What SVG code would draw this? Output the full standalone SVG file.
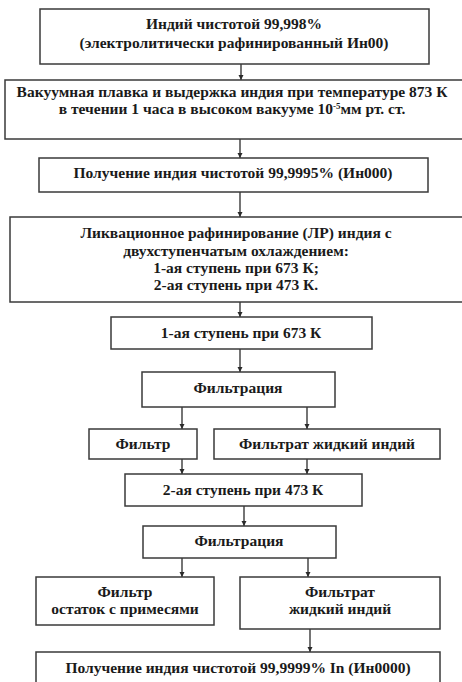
<svg xmlns="http://www.w3.org/2000/svg" width="462" height="682" viewBox="0 0 462 682">
<style>
.b{fill:#fff;stroke:#3a3a3a;stroke-width:1.5}
.t{font-family:"Liberation Serif","Times New Roman",serif;font-weight:bold;font-size:15.5px;fill:#1a1a1a;text-anchor:middle}
.c{stroke:#2a2a2a;stroke-width:1.3;fill:none;marker-end:url(#a)}
</style>
<defs>
<marker id="a" markerWidth="6" markerHeight="6" refX="5" refY="3" orient="auto" markerUnits="userSpaceOnUse">
<path d="M0,0.5 L5,3 L0,5.5 Z" fill="#2a2a2a"/>
</marker>
</defs>
<rect width="462" height="682" fill="#fff"/>
<g id="connectors">
<line class="c" x1="241" y1="64" x2="241" y2="80"/>
<line class="c" x1="240" y1="139" x2="240" y2="158"/>
<line class="c" x1="240" y1="192" x2="240" y2="217"/>
<line class="c" x1="240" y1="302" x2="240" y2="317"/>
<line class="c" x1="240" y1="349" x2="240" y2="372"/>
<line class="c" x1="182" y1="407" x2="182" y2="429"/>
<line class="c" x1="307" y1="407" x2="307" y2="429"/>
<line class="c" x1="182" y1="459" x2="182" y2="474"/>
<line class="c" x1="307" y1="459" x2="307" y2="474"/>
<line class="c" x1="244" y1="506" x2="244" y2="526"/>
<line class="c" x1="182" y1="558" x2="182" y2="577"/>
<line class="c" x1="308" y1="558" x2="308" y2="577"/>
<line class="c" x1="310" y1="629" x2="310" y2="652"/>
</g>
<g id="n1"><rect class="b" x="40" y="9" width="389" height="55"/>
<text class="t" x="234" y="29">Индий чистотой 99,998%</text>
<text class="t" x="234" y="48">(электролитически рафинированный Ин00)</text></g>
<g id="n2"><rect class="b" x="5" y="80" width="470" height="59"/>
<text class="t" x="232" y="97">Вакуумная плавка и выдержка индия при температуре 873 К</text>
<text class="t" x="232" y="114">в течении 1 часа в высоком вакууме 10<tspan font-size="9" dy="-5">-5</tspan><tspan dy="5">мм рт. ст.</tspan></text></g>
<g id="n3"><rect class="b" x="39" y="158" width="389" height="34"/>
<text class="t" x="233" y="178">Получение индия чистотой 99,9995% (Ин000)</text></g>
<g id="n4"><rect class="b" x="10" y="217" width="465" height="85"/>
<text class="t" x="236" y="238">Ликвационное рафинирование (ЛР) индия с</text>
<text class="t" x="236" y="256">двухступенчатым охлаждением:</text>
<text class="t" x="236" y="273">1-ая ступень при 673 К;</text>
<text class="t" x="236" y="290">2-ая ступень при 473 К.</text></g>
<g id="n5"><rect class="b" x="111" y="317" width="261" height="32"/>
<text class="t" x="241" y="338">1-ая ступень при 673 К</text></g>
<g id="n6"><rect class="b" x="142" y="372" width="193" height="35"/>
<text class="t" x="238" y="393">Фильтрация</text></g>
<g id="n7"><rect class="b" x="89" y="429" width="108" height="30"/>
<text class="t" x="143" y="449">Фильтр</text></g>
<g id="n8"><rect class="b" x="214" y="429" width="226" height="30"/>
<text class="t" x="327" y="449">Фильтрат жидкий индий</text></g>
<g id="n9"><rect class="b" x="125" y="474" width="237" height="32"/>
<text class="t" x="243" y="495">2-ая ступень при 473 К</text></g>
<g id="n10"><rect class="b" x="143" y="526" width="193" height="32"/>
<text class="t" x="239" y="546">Фильтрация</text></g>
<g id="n11"><rect class="b" x="36" y="577" width="178" height="48"/>
<text class="t" x="125" y="597">Фильтр</text>
<text class="t" x="125" y="614">остаток с примесями</text></g>
<g id="n12"><rect class="b" x="240" y="577" width="200" height="52"/>
<text class="t" x="340" y="597">Фильтрат</text>
<text class="t" x="340" y="614">жидкий индий</text></g>
<g id="n13"><rect class="b" x="36" y="652" width="404" height="40"/>
<text class="t" x="238" y="673">Получение индия чистотой 99,9999% In (Ин0000)</text></g>
</svg>
